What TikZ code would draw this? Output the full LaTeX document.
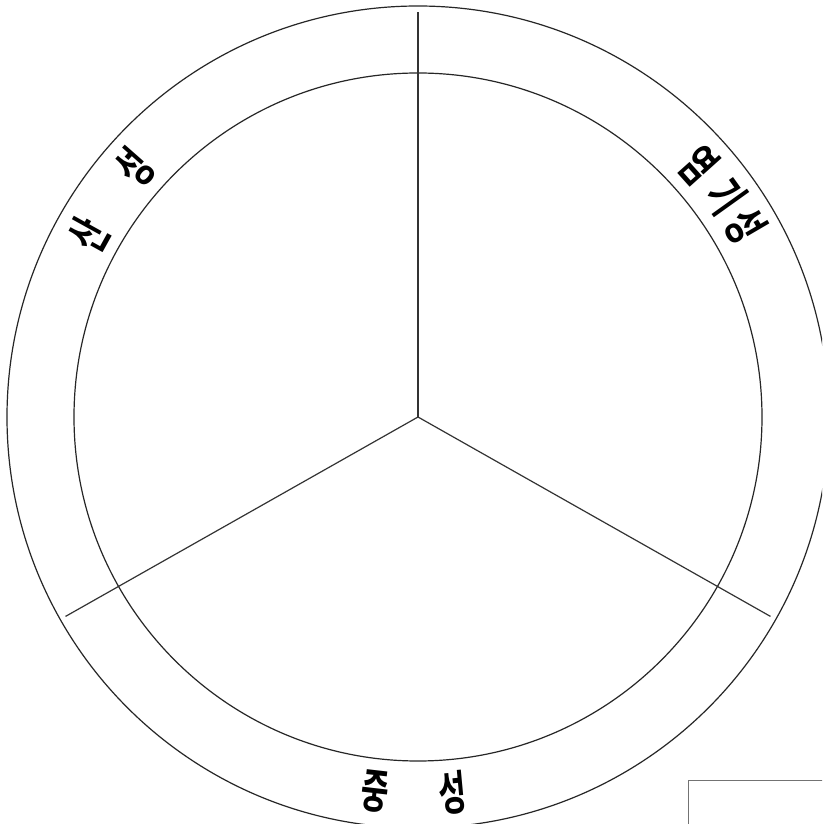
\documentclass[tikz,border=0pt]{standalone}
\usepackage{fontspec}
\newfontfamily\kr{Noto Sans CJK KR}[BoldFont={* Bold}]
\tikzset{
  ring/.style={draw=black!85, line width=1.2pt},
  spoke/.style={draw=black!80, line width=1.2pt},
  lbl/.style={inner sep=0pt, font=\kr\bfseries\fontsize{47}{47}\selectfont},
  frame/.style={draw=black!55, line width=1.4pt}
}
\newcommand{\nar}[1]{\scalebox{0.64}[1]{#1}}
\begin{document}
\begin{tikzpicture}[x=1pt,y=1pt]
  \clip (-418,-407) rectangle (404,417);
  \fill[white] (-418,-407) rectangle (404,417);
  \coordinate (c) at (0,0);
  \draw[ring] (c) circle (411);
  \draw[ring] (c) circle (344);
  \coordinate (t) at (90:405);
  \coordinate (l) at (209.5:405);
  \coordinate (r) at (330.5:405);
  \draw[spoke] (c) -- (t);
  \draw[spoke] (c) -- (l);
  \draw[spoke] (c) -- (r);
  % left: 산 성
  \node[lbl, rotate=61] (a1) at (151:377) {\nar{산}};
  \node[lbl, rotate=48.6] (a2) at (138.6:378) {\nar{성}};
  % right: 염기성
  \node[lbl, rotate=-48.1] (b1) at (41.9:377) {\nar{염}};
  \node[lbl, rotate=-54.4] (b2) at (35.6:379) {\nar{기}};
  \node[lbl, rotate=-59.7] (b3) at (30.3:379) {\nar{성}};
  % bottom: 중 성
  \node[lbl, rotate=-6.6] (n1) at (263.5:377) {\nar{중}};
  \node[lbl, rotate=5.3] (n2) at (275.3:377) {\nar{성}};
  % partial frame at lower right
  \node[frame, minimum width=150pt, minimum height=60pt, anchor=north west] (box) at (270,-363) {};
\end{tikzpicture}
\end{document}
